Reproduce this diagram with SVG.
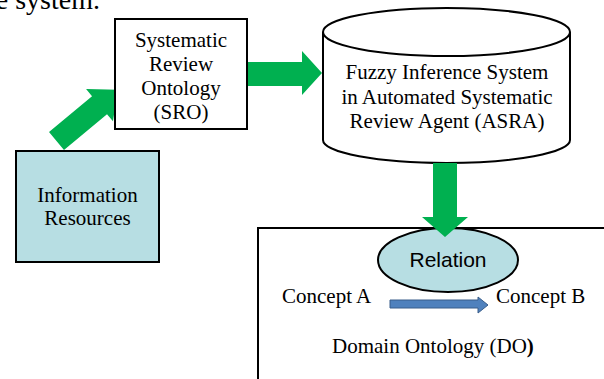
<svg xmlns="http://www.w3.org/2000/svg" width="604" height="379" viewBox="0 0 604 379">
<style>
.t{font-family:"Liberation Serif","Times New Roman",serif;font-size:21px;fill:#000;}
.c{text-anchor:middle;}
.a{font-family:"Liberation Sans",Arial,sans-serif;font-size:21px;fill:#000;text-anchor:middle;}
.box{fill:#fff;stroke:#000;stroke-width:2;}
.blue{fill:#B7DEE3;stroke:#000;stroke-width:2;}
.g{fill:#00B050;stroke:none;}
</style>
<rect width="604" height="379" fill="#fff"/>
<text class="t" x="-26" y="9" style="font-size:28px">the system.</text>
<g id="connectors">
<polygon class="g" transform="translate(56.5,141) rotate(-39.8)" points="0,-11.7 56,-11.7 56,-21 80,0 56,21 56,11.7 0,11.7"/>
<polygon class="g" points="240,62 302,62 302,51 322,73 302,95 302,86 240,86"/>
</g>
<g id="info">
<rect class="blue" x="16" y="151" width="143" height="111"/>
<text class="t c" x="87.5" y="202">Information</text>
<text class="t c" x="87.5" y="225">Resources</text>
</g>
<g id="sro">
<rect class="box" x="115" y="19" width="132" height="110"/>
<text class="t c" x="181" y="47">Systematic</text>
<text class="t c" x="181" y="71">Review</text>
<text class="t c" x="181" y="95">Ontology</text>
<text class="t c" x="181" y="119">(SRO)</text>
</g>
<g id="asra">
<path class="box" d="M323,32 L323,140 A123.5,23 0 0 0 570,140 L570,32 A123.5,24 0 0 0 323,32 Z"/>
<path d="M323,32 A123.5,24 0 0 0 570,32" fill="none" stroke="#000" stroke-width="2"/>
<text class="t c" x="447" y="79">Fuzzy Inference System</text>
<text class="t c" x="447" y="103.5">in Automated Systematic</text>
<text class="t c" x="447" y="128">Review Agent (ASRA)</text>
</g>
<g id="do">
<rect class="box" x="258" y="228" width="360" height="200"/>
<text class="t" x="282" y="303">Concept A</text>
<text class="t" x="496" y="303">Concept B</text>
<text class="t" x="332" y="353">Domain Ontology (DO<tspan font-weight="bold">)</tspan></text>
<polygon points="390,300 478,300 478,297 488,305 478,313 478,308 390,308" fill="#4F81BD" stroke="#385D8A" stroke-width="1"/>
</g>
<g id="relation">
<ellipse class="blue" cx="448" cy="260" rx="70" ry="32"/>
<text class="a" x="448" y="267">Relation</text>
</g>
<g id="connectors2">
<polygon class="g" points="433,163 457,163 457,217 468,217 445,237 422,217 433,217"/>
</g>
</svg>
